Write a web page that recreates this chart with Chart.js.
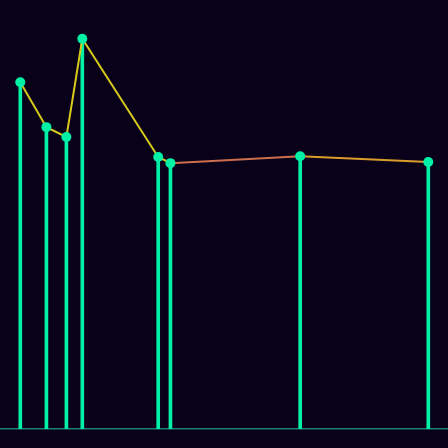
<!DOCTYPE html>
<html>
<head>
<meta charset="utf-8">
<script src="https://cdn.jsdelivr.net/npm/chart.js@4"></script>
<style>
  html, body { margin: 0; padding: 0; background: #09011a; }
  #wrap { width: 448px; height: 448px; }
</style>
</head>
<body>
<div id="wrap"><canvas id="chart"></canvas></div>
<script>
// data
const xValues = [0, 6.4, 11.3, 15.2, 33.8, 36.8, 68.6, 100];
const yValues = [84.8, 73.8, 71.4, 95.4, 66.5, 65.0, 66.7, 65.3];

// line colour for each segment
const segmentColors = ["#d6c81c", "#d6c81c", "#d6c81c", "#d6c81c", "#d6c81c", "#cc6e4c", "#dc9c2c"];

const points = xValues.map((x, i) => ({ x: x, y: yValues[i] }));

new Chart(document.getElementById("chart"), {
    type: "bar",
    data: {
        datasets: [
            {
                type: "line",
                data: points,
                order: 0,
                borderWidth: 2,
                borderColor: "#d6c81c",
                segment: {
                    borderColor: ctx => segmentColors[ctx.p0DataIndex]
                },
                pointRadius: 5,
                pointBorderWidth: 0,
                pointBackgroundColor: "#00f0a6",
                tension: 0
            },
            {
                type: "bar",
                data: points,
                order: 1,
                backgroundColor: "#00f0a6",
                barThickness: 3
            }
        ]
    },
    options: {
        responsive: true,
        maintainAspectRatio: false,
        animation: false,
        devicePixelRatio: 1,
        layout: { autoPadding: false, padding: { top: 20, bottom: 11, left: 0, right: 0 } },
        plugins: { legend: { display: false }, tooltip: { enabled: false } },
        scales: {
            x: {
                type: "linear",
                min: -4.975,
                max: 104.83,
                offset: false,
                grid: { display: false },
                ticks: { display: false },
                border: { display: true, color: "#17826e", width: 1.5 }
            },
            y: {
                display: false,
                min: 0,
                max: 100
            }
        }
    }
});
</script>
</body>
</html>
